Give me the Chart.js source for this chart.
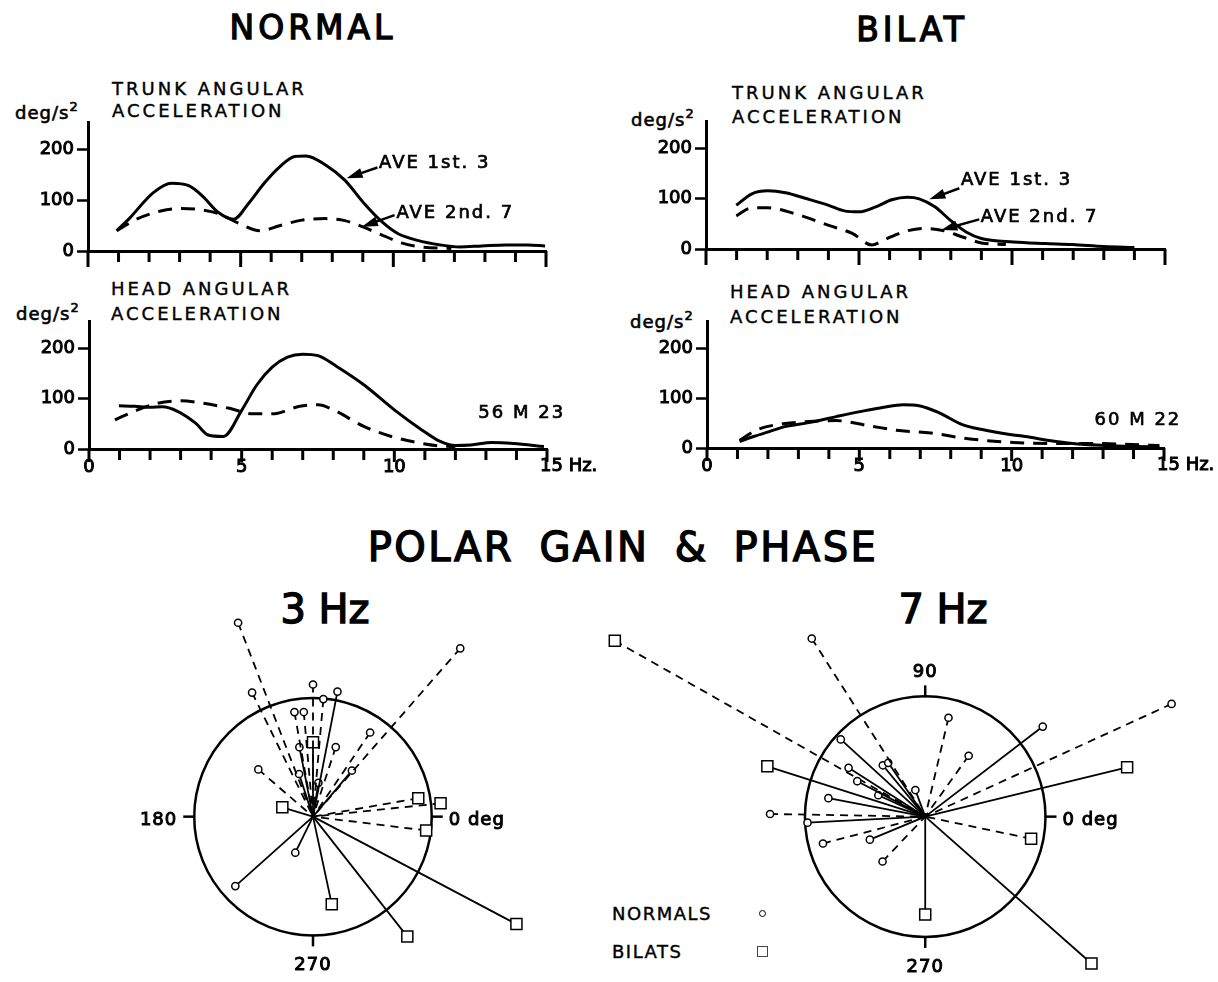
<!DOCTYPE html>
<html>
<head>
<meta charset="utf-8">
<script src="https://cdn.jsdelivr.net/npm/chart.js@4.4.1/dist/chart.umd.min.js"></script>
<style>
  body { margin: 0; background: #fff; }
  #page { position: relative; width: 1218px; height: 982px; overflow: hidden; font-family: 'DejaVu Sans', sans-serif; color: #000; }
  .t { position: absolute; white-space: nowrap; line-height: 1; -webkit-text-stroke: 0.4px #000; }
  .c { transform: translateX(-50%); }
  .big { font-size: 33px; letter-spacing: 4px; -webkit-text-stroke: 1.3px #000; }
  .head { font-size: 40px; -webkit-text-stroke: 1.4px #000; }
  .sm { font-size: 18px; letter-spacing: 3px; }
  .unit { font-size: 18px; letter-spacing: 1px; -webkit-text-stroke: 0.6px #000; }
  .unit sup { font-size: 13px; vertical-align: 0; position: relative; top: -8px; }
  .mark { position: absolute; border: 1.5px solid #000; background: #fff; }
</style>
</head>
<body>
<div id="page">
  <div class="t c big" style="left:313px;top:11px">NORMAL</div>
  <div class="t c big" style="left:912px;top:13px">BILAT</div>

  <div class="t sm" style="left:112px;top:80px">TRUNK ANGULAR</div>
  <div class="t sm" style="left:112px;top:102px">ACCELERATION</div>
  <div class="t unit" style="left:15px;top:104px">deg/s<sup>2</sup></div>

  <div class="t sm" style="left:111px;top:280px">HEAD ANGULAR</div>
  <div class="t sm" style="left:111px;top:305px">ACCELERATION</div>
  <div class="t unit" style="left:16px;top:305px">deg/s<sup>2</sup></div>

  <div class="t sm" style="left:732px;top:84px">TRUNK ANGULAR</div>
  <div class="t sm" style="left:732px;top:108px">ACCELERATION</div>
  <div class="t unit" style="left:631px;top:111px">deg/s<sup>2</sup></div>

  <div class="t sm" style="left:730px;top:283px">HEAD ANGULAR</div>
  <div class="t sm" style="left:730px;top:308px">ACCELERATION</div>
  <div class="t unit" style="left:630px;top:313px">deg/s<sup>2</sup></div>

  <div class="t c head" style="left:623px;top:527px;letter-spacing:2.5px;word-spacing:10px">POLAR GAIN &amp; PHASE</div>
  <div class="t c head" style="left:325px;top:589px">3 Hz</div>
  <div class="t c head" style="left:943px;top:589px">7 Hz</div>

  <div class="t sm" style="left:612px;top:905px;letter-spacing:1.5px">NORMALS</div>
  <div class="t sm" style="left:612px;top:943px;letter-spacing:1.5px">BILATS</div>
  <div class="mark" style="left:759px;top:910px;width:5px;height:5px;border-radius:50%"></div>
  <div class="mark" style="left:757px;top:946px;width:9px;height:9px;border-width:1px;border-color:#444"></div>

  <canvas id="normTrunk"></canvas>
  <canvas id="normHead"></canvas>
  <canvas id="bilatTrunk"></canvas>
  <canvas id="bilatHead"></canvas>
  <canvas id="polar3"></canvas>
  <canvas id="polar7"></canvas>
</div>

<script>
Chart.defaults.font.family = "'DejaVu Sans', sans-serif";
Chart.defaults.color = '#000';

// ---- spectra: frequency (Hz) and angular acceleration (deg/s^2) ----
// NORMAL, trunk
const normTrunkHz1 = [0.94, 1.38, 2.13, 2.74, 3.3, 3.76, 4.27, 4.77, 5.27, 5.77, 6.27, 6.77, 7.14, 7.78, 8.41, 9.03, 9.66, 10.16, 10.79, 11.54, 12.17, 12.9, 13.68, 14.4, 14.97];
const normTrunkAve1 = [40, 66, 115, 134, 129, 108, 76, 63, 95, 134, 166, 187, 188, 170, 140, 95, 56, 34, 21, 12, 8, 10, 12, 12, 10];
const normTrunkHz2 = [0.94, 1.63, 2.38, 3.01, 3.63, 4.27, 4.89, 5.65, 6.27, 7.0, 7.78, 8.41, 8.9, 9.54, 10.26, 10.9, 11.9];
const normTrunkAve2 = [40, 64, 79, 84, 82, 74, 56, 40, 50, 61, 64, 60, 50, 34, 16, 8, 5];
// NORMAL, head
const normHeadHz1 = [0.98, 1.5, 2.0, 2.4, 2.9, 3.5, 3.9, 4.4, 5.0, 5.5, 6.0, 6.5, 7.0, 7.5, 8.1, 9.0, 10.0, 10.9, 11.5, 12.0, 12.5, 13.2, 13.9, 14.9];
const normHeadAve1 = [86, 85, 83, 84, 75, 51, 28, 25, 77, 128, 163, 183, 189, 186, 165, 128, 78, 38, 15, 7, 8, 13, 11, 5];
const normHeadHz2 = [0.85, 1.48, 2.23, 2.99, 3.74, 4.6, 5.37, 6.0, 6.9, 7.5, 8.0, 9.0, 9.9, 10.9, 11.5, 12.0];
const normHeadAve2 = [58, 75, 91, 96, 91, 81, 70, 70, 85, 88, 78, 45, 25, 11, 6, 5];
// BILAT, trunk
const bilatTrunkHz1 = [0.99, 1.5, 2.02, 2.6, 3.24, 4.01, 4.52, 5.0, 5.55, 6.07, 6.58, 6.97, 7.48, 7.99, 8.5, 9.0, 10.05, 11.08, 11.98, 13.0, 14.0];
const bilatTrunkAve1 = [87, 110, 116, 112, 101, 87, 76, 74, 84, 98, 103, 100, 84, 57, 34, 21, 14, 11, 9, 5, 3];
const bilatTrunkHz2 = [0.99, 1.5, 2.02, 2.98, 4.01, 4.78, 5.42, 5.81, 6.45, 7.1, 7.74, 8.38, 9.0, 9.8];
const bilatTrunkAve2 = [66, 82, 82, 69, 47, 31, 8, 18, 34, 41, 37, 24, 12, 9];
// BILAT, head
const bilatHeadHz1 = [1.07, 1.53, 2.04, 2.56, 3.34, 4.24, 5.02, 5.8, 6.44, 6.96, 7.61, 8.38, 9.03, 9.94, 10.45, 11.23, 12.0, 13.04, 13.95, 14.85];
const bilatHeadAve1 = [13, 23, 33, 43, 51, 63, 73, 82, 87, 85, 71, 47, 37, 27, 23, 15, 9, 5, 3, 2];
const bilatHeadHz2 = [1.07, 1.66, 2.56, 3.34, 4.24, 5.28, 6.31, 7.35, 8.51, 10.06, 11.36, 12.65, 13.95, 14.85];
const bilatHeadAve2 = [15, 37, 49, 53, 55, 45, 35, 30, 19, 11, 9, 9, 7, 5];

const accelTicks = [0, 100, 200];

// ---- polar gain (relative to unit circle) and phase (deg) ----
// set: 'first' = solid line, 'second' = dashed line
const norm3Gain  = [1.76, 1.89, 1.17, 1.12, 1.08, 1.00, 0.90, 0.89, 0.86, 0.60, 0.62, 0.61, 0.38, 0.51, 0.29, 0.34, 0.88];
const norm3Phase = [111, 49, 116, 90, 79, 85, 100, 95, 56, 101, 72, 139, 108, 50, 81, 244, 222];
const norm3Set   = ['second', 'second', 'second', 'second', 'first', 'second', 'second', 'second', 'second', 'first', 'second', 'second', 'first', 'first', 'first', 'first', 'first'];
const bilat3Gain  = [0.63, 0.27, 0.90, 1.08, 0.96, 0.76, 1.29, 1.94];
const bilat3Phase = [90, 163, 10, 6, -7, -78, -52, -28];
const bilat3Set   = ['first', 'first', 'second', 'second', 'second', 'first', 'first', 'first'];

const norm7Gain  = [1.78, 2.26, 0.86, 1.24, 0.63, 0.96, 0.55, 0.56, 0.76, 0.64, 0.43, 0.24, 0.82, 1.29, 0.98, 0.88, 0.50, 0.52];
const norm7Phase = [122, 25, 77, 38, 55, 137, 124, 129, 147, 152, 155, 110, 169, 179, 183, 195, 203, 227];
const norm7Set   = ['second', 'second', 'second', 'first', 'second', 'first', 'first', 'first', 'first', 'first', 'first', 'first', 'first', 'second', 'first', 'second', 'first', 'second'];
const bilat7Gain  = [2.98, 1.38, 1.73, 0.90, 0.83, 1.86];
const bilat7Phase = [150, 162, 14, -12, -90, -42];
const bilat7Set   = ['second', 'first', 'first', 'second', 'first', 'first'];

function placeCanvas(id, left, top, width, height) {
  const cv = document.getElementById(id);
  cv.width = width;
  cv.height = height;
  cv.style.cssText = 'position:absolute;left:' + left + 'px;top:' + top + 'px;width:' + width + 'px;height:' + height + 'px';
  return cv;
}

const pts = (xs, ys) => xs.map((x, i) => ({ x: x, y: ys[i] }));

// filled and slightly stroked, to look like the lettering of the original
function heavyText(ctx, text, x, y, w) {
  ctx.fillText(text, x, y);
  ctx.lineWidth = w;
  ctx.strokeText(text, x, y);
}

function arrow(ctx, x1, y1, x2, y2) {
  const a = Math.atan2(y2 - y1, x2 - x1);
  const c = Math.cos(a), s = Math.sin(a);
  ctx.lineWidth = 2.5;
  ctx.beginPath();
  ctx.moveTo(x1, y1);
  ctx.lineTo(x2 - 10 * c, y2 - 10 * s);
  ctx.stroke();
  ctx.beginPath();
  ctx.moveTo(x2, y2);
  ctx.lineTo(x2 - 16 * c + 5 * s, y2 - 16 * s - 5 * c);
  ctx.lineTo(x2 - 16 * c - 5 * s, y2 - 16 * s + 5 * c);
  ctx.closePath();
  ctx.fill();
}

// tick marks under the frequency axis, "15 Hz." and the notes
const spectrumDecor = {
  id: 'spectrumDecor',
  afterDraw(chart, args, opts) {
    const { ctx } = chart;
    const x = chart.scales.x, y = chart.scales.y;
    const y0 = y.getPixelForValue(0);
    ctx.save();
    ctx.strokeStyle = '#000';
    ctx.fillStyle = '#000';
    ctx.lineWidth = 3;
    for (let v = 0; v <= 15; v++) {
      const px = x.getPixelForValue(v);
      ctx.beginPath();
      ctx.moveTo(px, y0);
      ctx.lineTo(px, y0 + (v % 5 === 0 ? opts.major : 11));
      ctx.stroke();
    }
    ctx.font = '18px "DejaVu Sans"';
    if (opts.hzLabel) {
      ctx.textAlign = 'left';
      ctx.textBaseline = 'top';
      heavyText(ctx, '15 Hz.', x.getPixelForValue(15) - 7, y0 + 8, 1);
    }
    ctx.letterSpacing = '2px';
    ctx.textAlign = 'left';
    ctx.textBaseline = 'middle';
    (opts.notes || []).forEach(n => heavyText(ctx, n.text, x.getPixelForValue(n.x), y.getPixelForValue(n.y), 0.7));
    (opts.arrows || []).forEach(a => arrow(ctx, x.getPixelForValue(a[0]), y.getPixelForValue(a[1]),
                                                x.getPixelForValue(a[2]), y.getPixelForValue(a[3])));
    ctx.restore();
  }
};

function spectrum(id, area, ave1, ave2, decor) {
  const YW = 60, PT = 16, PR = 70, XH = 40;
  const left = area.left - YW, top = area.top - PT;
  const cv = placeCanvas(id, left, top, area.right - left + PR, area.bottom - top + XH);
  return new Chart(cv, {
    type: 'scatter',
    data: {
      datasets: [
        { label: 'AVE 1st. 3', data: ave1, showLine: true, borderColor: '#000', borderWidth: 3,
          pointRadius: 0, cubicInterpolationMode: 'monotone' },
        { label: 'AVE 2nd. 7', data: ave2, showLine: true, borderColor: '#000', borderWidth: 3,
          borderDash: [14, 9], pointRadius: 0, cubicInterpolationMode: 'monotone' }
      ]
    },
    options: {
      responsive: false,
      animation: false,
      layout: { padding: { top: PT, right: PR, left: 0, bottom: 0 } },
      plugins: { legend: { display: false }, tooltip: { enabled: false }, spectrumDecor: decor },
      scales: {
        x: {
          type: 'linear', min: 0, max: 15,
          afterFit: s => { s.height = XH; },
          grid: { display: false, drawTicks: false },
          border: { display: true, color: '#000', width: 3 },
          ticks: {
            display: !!decor.hzLabel, stepSize: 1, autoSkip: false, maxRotation: 0, padding: 8,
            font: { size: 18 }, textStrokeColor: '#000', textStrokeWidth: 1,
            callback: v => (v % 5 === 0 && v < 15) ? String(v) : ''
          }
        },
        y: {
          min: 0, max: 255,
          afterFit: s => { s.width = YW; },
          afterBuildTicks: s => { s.ticks = accelTicks.map(v => ({ value: v })); },
          grid: { display: true, drawOnChartArea: false, drawTicks: true, tickLength: 11, tickWidth: 2.5, tickColor: '#000' },
          border: { display: true, color: '#000', width: 3 },
          ticks: { padding: 3, font: { size: 18 }, textStrokeColor: '#000', textStrokeWidth: 1 }
        }
      }
    },
    plugins: [spectrumDecor]
  });
}

spectrum('normTrunk', { left: 88, right: 546, top: 122, bottom: 251 },
  pts(normTrunkHz1, normTrunkAve1), pts(normTrunkHz2, normTrunkAve2),
  { major: 16,
    notes: [{ text: 'AVE 1st. 3', x: 9.53, y: 174 }, { text: 'AVE 2nd. 7', x: 10.1, y: 75 }],
    arrows: [[9.48, 165, 8.47, 144], [10.04, 71, 8.97, 48]] });

spectrum('normHead', { left: 89, right: 547, top: 321, bottom: 449 },
  pts(normHeadHz1, normHeadAve1), pts(normHeadHz2, normHeadAve2),
  { major: 13, hzLabel: true, notes: [{ text: '56 M 23', x: 12.75, y: 72 }] });

spectrum('bilatTrunk', { left: 706, right: 1165, top: 121, bottom: 249 },
  pts(bilatTrunkHz1, bilatTrunkAve1), pts(bilatTrunkHz2, bilatTrunkAve2),
  { major: 16,
    notes: [{ text: 'AVE 1st. 3', x: 8.33, y: 137 }, { text: 'AVE 2nd. 7', x: 8.98, y: 64 }],
    arrows: [[8.28, 121, 7.3, 99], [8.93, 59, 7.69, 38]] });

spectrum('bilatHead', { left: 707, right: 1164, top: 321, bottom: 448 },
  pts(bilatHeadHz1, bilatHeadAve1), pts(bilatHeadHz2, bilatHeadAve2),
  { major: 13, hzLabel: true, notes: [{ text: '60 M 22', x: 12.72, y: 56 }] });

// unit circle with its phase ticks
const polarFrame = {
  id: 'polarFrame',
  beforeDatasetsDraw(chart, args, opts) {
    const { ctx } = chart;
    const x = chart.scales.x, y = chart.scales.y;
    const cx = x.getPixelForValue(0), cy = y.getPixelForValue(0);
    const r = x.getPixelForValue(1) - cx;
    ctx.save();
    ctx.strokeStyle = '#000';
    ctx.fillStyle = '#000';
    ctx.lineWidth = 2.5;
    ctx.beginPath();
    ctx.arc(cx, cy, r, 0, 2 * Math.PI);
    ctx.stroke();
    ctx.font = '18px "DejaVu Sans"';
    ctx.letterSpacing = '1px';
    opts.ticks.forEach(([deg, label]) => {
      const a = deg * Math.PI / 180, c = Math.cos(a), s = -Math.sin(a);
      ctx.lineWidth = 2.5;
      ctx.beginPath();
      ctx.moveTo(cx + (r - 1) * c, cy + (r - 1) * s);
      ctx.lineTo(cx + (r + 11) * c, cy + (r + 11) * s);
      ctx.stroke();
      ctx.textBaseline = 'middle';
      if (Math.abs(c) > 0.5) {
        ctx.textAlign = c > 0 ? 'left' : 'right';
        heavyText(ctx, label, cx + (r + 17) * c, cy + 4, 1);
      } else {
        ctx.textAlign = 'center';
        heavyText(ctx, label, cx, cy + s * (r + (s > 0 ? 30 : 24)), 1);
      }
    });
    ctx.restore();
  }
};

function spokes(gain, phase, set, marker) {
  return gain.map((g, i) => {
    const a = phase[i] * Math.PI / 180;
    return {
      data: [{ x: g * Math.cos(a), y: g * Math.sin(a) }, { x: 0, y: 0 }],
      showLine: true,
      borderColor: '#000',
      borderWidth: 1.8,
      borderDash: set[i] === 'second' ? [8, 6] : [],
      pointRadius: [marker.r, 0],
      pointStyle: marker.shape,
      pointBackgroundColor: '#fff',
      pointBorderColor: '#000',
      pointBorderWidth: 1.5,
      clip: false
    };
  });
}

function polar(id, box, normals, bilats, ticks) {
  const R = 124;
  const cv = placeCanvas(id, box.left, box.top, box.width, box.height);
  const cx = box.cx - box.left, cy = box.cy - box.top;
  return new Chart(cv, {
    type: 'scatter',
    data: {
      datasets: spokes(normals[0], normals[1], normals[2], { r: 3.6, shape: 'circle' })
        .concat(spokes(bilats[0], bilats[1], bilats[2], { r: 7.8, shape: 'rect' }))
    },
    options: {
      responsive: false,
      animation: false,
      layout: { padding: 0 },
      plugins: { legend: { display: false }, tooltip: { enabled: false }, polarFrame: { ticks: ticks } },
      scales: {
        x: { type: 'linear', display: false, min: -cx / R, max: (box.width - cx) / R },
        y: { type: 'linear', display: false, min: -(box.height - cy) / R, max: cy / R }
      }
    },
    plugins: [polarFrame]
  });
}

polar('polar3', { left: 93, top: 598, width: 440, height: 384, cx: 313, cy: 818 },
  [norm3Gain, norm3Phase, norm3Set], [bilat3Gain, bilat3Phase, bilat3Set],
  [[180, '180'], [0, '0 deg'], [270, '270']]);

polar('polar7', { left: 590, top: 598, width: 620, height: 384, cx: 926, cy: 818 },
  [norm7Gain, norm7Phase, norm7Set], [bilat7Gain, bilat7Phase, bilat7Set],
  [[90, '90'], [0, '0 deg'], [270, '270']]);
</script>
</body>
</html>
